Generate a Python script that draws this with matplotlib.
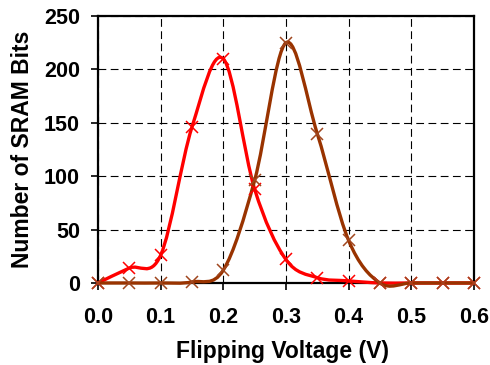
import numpy as np
import matplotlib
matplotlib.use("Agg")
import matplotlib.pyplot as plt
from matplotlib.path import Path
from matplotlib.patches import PathPatch

plt.rcParams['font.family'] = ['Liberation Sans', 'DejaVu Sans']

voltage = [0.0, 0.05, 0.10, 0.15, 0.20, 0.25, 0.30, 0.35, 0.40, 0.45, 0.50, 0.55, 0.60]
series_red = [0, 14, 26, 146, 210, 88, 22, 5, 2, 0, 0, 0, 0]
series_brown = [0, 0, 0, 1, 12, 96, 225, 140, 40, 0, 0, 0, 0]

x_ticks = [0.0, 0.1, 0.2, 0.3, 0.4, 0.5, 0.6]
x_ticklabels = ['0.0', '0.1', '0.2', '0.3', '0.4', '0.5', '0.6']
y_ticks = [0, 50, 100, 150, 200, 250]

RED = '#FF0000'
BROWN = '#993300'


def smooth_path(xs, ys):
    xs = np.asarray(xs, float)
    ys = np.asarray(ys, float)
    n = len(xs)
    verts = [(xs[0], ys[0])]
    codes = [Path.MOVETO]
    for i in range(n - 1):
        p0 = (xs[max(i - 1, 0)], ys[max(i - 1, 0)])
        p1 = (xs[i], ys[i])
        p2 = (xs[i + 1], ys[i + 1])
        p3 = (xs[min(i + 2, n - 1)], ys[min(i + 2, n - 1)])
        c1 = (p1[0] + (p2[0] - p0[0]) / 6, p1[1] + (p2[1] - p0[1]) / 6)
        c2 = (p2[0] - (p3[0] - p1[0]) / 6, p2[1] - (p3[1] - p1[1]) / 6)
        verts += [c1, c2, p2]
        codes += [Path.CURVE4] * 3
    return Path(verts, codes)


fig = plt.figure(figsize=(4.9, 3.65), dpi=100)
ax = fig.add_axes([0.2, 0.2247, 0.767, 0.7313])

for ys, col, mcol in [(series_red, RED, RED), (series_brown, BROWN, '#A0461E')]:
    patch = PathPatch(smooth_path(voltage, ys), facecolor='none', edgecolor=col,
                      lw=2.4, zorder=3, clip_on=False)
    ax.add_patch(patch)
    ax.plot(voltage, ys, linestyle='none', marker='x', markersize=8.5,
            markeredgewidth=1.1, color=mcol, zorder=4, clip_on=False)

ax.set_xlim(0, 0.6)
ax.set_ylim(0, 250)
ax.set_xticks(x_ticks)
ax.set_xticklabels(x_ticklabels)
ax.set_yticks(y_ticks)
ax.grid(True, color='black', linestyle=(0, (7, 4)), linewidth=0.8)
ax.set_axisbelow(True)
for s in ax.spines.values():
    s.set_linewidth(1.6)
    s.set_color('black')
ax.tick_params(direction='out', length=5, width=1.2, labelsize=15.5)
ax.tick_params(axis='x', pad=12)
ax.tick_params(axis='y', pad=8)
for lab in ax.get_xticklabels() + ax.get_yticklabels():
    lab.set_fontweight('bold')
ax.set_xlabel('Flipping Voltage (V)', fontsize=16.5, fontweight='bold')
ax.set_ylabel('Number of SRAM Bits', fontsize=16.5, fontweight='bold')
ax.xaxis.set_label_coords(0.49, -0.258)
ax.yaxis.set_label_coords(-0.202, 0.5)
ax.xaxis.label.set_va('center')
ax.yaxis.label.set_va('center')

fig.savefig('out.png', dpi=100)
